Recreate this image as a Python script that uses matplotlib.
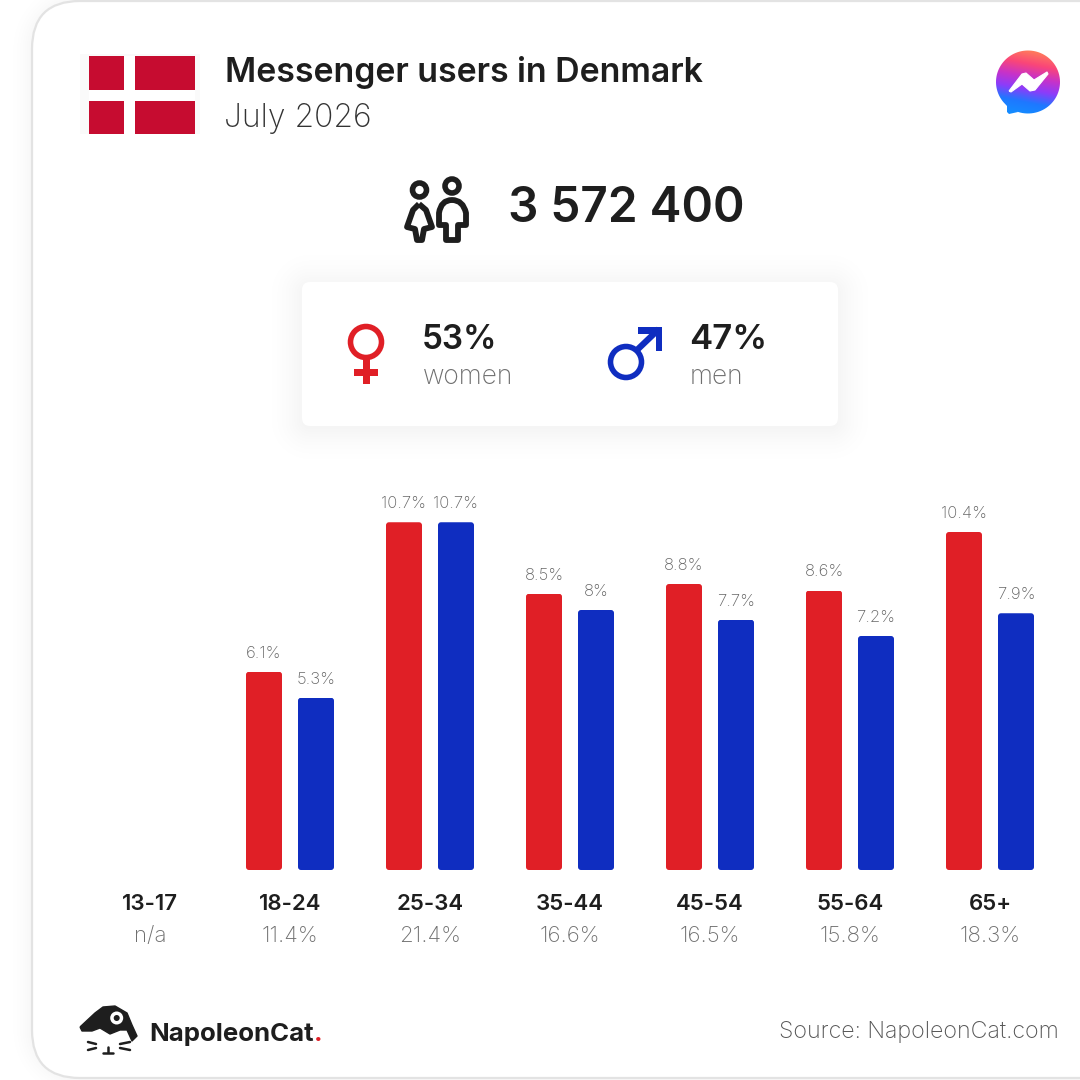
import numpy as np
import matplotlib
matplotlib.use('Agg')
import matplotlib.pyplot as plt
from matplotlib.patches import FancyBboxPatch, Circle, Rectangle, PathPatch
from matplotlib.path import Path

## chart values
age_groups = ['13-17', '18-24', '25-34', '35-44', '45-54', '55-64', '65+']
age_shares = ['n/a', '11.4%', '21.4%', '16.6%', '16.5%', '15.8%', '18.3%']
women = [None, 6.1, 10.7, 8.5, 8.8, 8.6, 10.4]
men = [None, 5.3, 10.7, 8, 7.7, 7.2, 7.9]
title = 'Messenger users in Denmark'
subtitle = 'July 2026'
total_users = '3 572 400'
women_share = '53%'
men_share = '47%'

RED = '#e01f26'
BLUE = '#0f2dc0'
DARK = '#1e1e1e'
GREY = '#6f6f6f'
FONT = 'Inter'

fig = plt.figure(figsize=(10.8, 10.8), dpi=100, facecolor='white')

## overlay axes works in the pixels of the reference, y going down
deco = fig.add_axes([0, 0, 1, 1], zorder=1)
deco.set_xlim(0, 1080)
deco.set_ylim(1080, 0)
deco.axis('off')

## chart axes, 140px per age group and 32.5px per percent, baseline at y=870
ax = fig.add_axes([0, 0, 1, 1], zorder=2)
ax.set_xlim(-150 / 140, 930 / 140)
ax.set_ylim(-210 / 32.5, 870 / 32.5)
ax.axis('off')
ax.patch.set_alpha(0)


def soft_shadow(x0, y0, x1, y1, r, spread, strength, dy=0):
    ## black image whose alpha falls off with the distance to a rounded box
    ex0, ex1, ey0, ey1 = x0 - spread, min(x1 + spread, 1080), y0 - spread + dy, min(y1 + spread + dy, 1080)
    ex0, ey0 = max(ex0, 0), max(ey0, 0)
    yy, xx = np.mgrid[ey0 + 0.5:ey1, ex0 + 0.5:ex1]
    qx = np.abs(xx - (x0 + x1) / 2) - (x1 - x0) / 2 + r
    qy = np.abs(yy - (y0 + y1 + 2 * dy) / 2) - (y1 - y0) / 2 + r
    dist = np.hypot(np.maximum(qx, 0), np.maximum(qy, 0)) + np.minimum(np.maximum(qx, qy), 0) - r
    fall = np.clip(1 - dist / spread, 0, 1) ** 2
    rgba = np.zeros(dist.shape + (4,))
    rgba[..., 3] = strength * fall
    deco.imshow(rgba, extent=(ex0, ex1, ey1, ey0), aspect='auto', zorder=1, interpolation='bilinear')


## outer card
soft_shadow(32, 1, 1140, 1078, 48, 28, 0.035)
deco.add_patch(FancyBboxPatch((32, 1), 1108, 1077, boxstyle='round,pad=0,rounding_size=48',
                              fc='white', ec='#e3e3e3', lw=1.6, zorder=1))

## flag
deco.add_patch(Rectangle((80, 54), 120, 80, fc='#fafafa', ec='none'))
deco.add_patch(Rectangle((89, 56), 106, 78, fc='#c60c30', ec='none'))
deco.add_patch(Rectangle((124, 56), 11, 78, fc='white', ec='none'))
deco.add_patch(Rectangle((89, 90), 106, 11, fc='white', ec='none'))

deco.text(225, 82, title, fontsize=24.4, fontweight='semibold', family=FONT, color=DARK)
deco.text(224, 127, subtitle, fontsize=23, fontweight='light', family=FONT, color='#333333')

## messenger logo, gradient clipped to the bubble
bubble_pts = [(1028 + 32 * np.cos(t), 82 + 31.5 * np.sin(t)) for t in np.linspace(-0.25 * np.pi, 0.62 * np.pi, 40)]
bubble_pts += [(1018, 112), (1009, 114), (1007, 112), (1007, 106)]
bubble_pts += [(1028 + 32 * np.cos(t), 82 + 31.5 * np.sin(t)) for t in np.linspace(0.78 * np.pi, 1.75 * np.pi, 50)]
bubble_path = Path(bubble_pts + [bubble_pts[0]])
stops = np.array([[255, 122, 92], [250, 70, 120], [200, 50, 200], [140, 60, 250], [30, 120, 255], [20, 140, 255]]) / 255
yy, xx = np.mgrid[0:1:64j, 0:1:64j]
g = np.clip(yy - 0.22 * (xx - 0.5), 0, 1)
grad = np.stack([np.interp(g, np.linspace(0, 1, 6), stops[:, c]) for c in range(3)], axis=-1)
im = deco.imshow(grad, extent=(990, 1066, 116, 50), aspect='auto', zorder=2)
im.set_clip_path(PathPatch(bubble_path, transform=deco.transData))
bolt = [(1009, 91), (1022, 74), (1026, 73), (1034, 80), (1047, 72), (1048, 74), (1035, 90), (1030, 91), (1022, 84), (1011, 92)]
deco.add_patch(PathPatch(Path(bolt + [bolt[0]]), fc='white', ec='white', lw=0.8, joinstyle='round', zorder=3))

## people icon
for cx, cy in [(419.5, 190), (452, 186)]:
    deco.add_patch(Circle((cx, cy), 7, fc='none', ec=DARK, lw=4))
woman_pts = [(419, 204), (426, 210), (432, 227), (424, 229), (422, 240), (417, 240), (415, 229), (407, 227), (413, 210)]
deco.add_patch(PathPatch(Path(woman_pts + [woman_pts[0]]), fc='none', ec=DARK, lw=4.2, joinstyle='round'))
man_verts = [(439, 225), (439, 213), (441, 200), (452, 200), (463, 200), (466, 213), (466, 225), (458, 225),
             (458, 240), (446, 240), (446, 225), (439, 225)]
man_codes = [Path.MOVETO, Path.LINETO, Path.CURVE3, Path.CURVE3, Path.CURVE3, Path.CURVE3, Path.LINETO, Path.LINETO,
             Path.LINETO, Path.LINETO, Path.LINETO, Path.CLOSEPOLY]
deco.add_patch(PathPatch(Path(man_verts, man_codes), fc='none', ec=DARK, lw=4.2, joinstyle='round'))

deco.text(508, 222, total_users, fontsize=34.4, fontweight='semibold', family=FONT, color=DARK)

## gender box
soft_shadow(302, 282, 838, 426, 8, 44, 0.04, dy=3)
deco.add_patch(FancyBboxPatch((302, 282), 536, 144, boxstyle='round,pad=0,rounding_size=8', fc='white', ec='none', zorder=1))

deco.add_patch(Circle((366, 342), 15.5, fc='none', ec=RED, lw=4))
deco.add_patch(Rectangle((363, 358), 6.5, 26, fc=RED, ec='none'))
deco.add_patch(Rectangle((354, 369), 24, 6.5, fc=RED, ec='none'))

deco.add_patch(Circle((626, 362), 15.5, fc='none', ec=BLUE, lw=4))
deco.plot([637, 659], [350, 329], color=BLUE, lw=4.5, solid_capstyle='butt')
deco.add_patch(Rectangle((638, 327), 24, 6.5, fc=BLUE, ec='none'))
deco.add_patch(Rectangle((655.5, 327), 6.5, 24, fc=BLUE, ec='none'))

deco.text(422, 349, women_share, fontsize=24, fontweight='semibold', family=FONT, color=DARK)
deco.text(423, 384, 'women', fontsize=19, fontweight='light', family=FONT, color=GREY)
deco.text(689, 349, men_share, fontsize=25, fontweight='semibold', family=FONT, color=DARK)
deco.text(690, 384, 'men', fontsize=19, fontweight='light', family=FONT, color=GREY)

## bars
bar_w = 36 / 140
off = 26 / 140
for i in range(1, len(age_groups)):
    for val, xc, col in [(women[i], i - off, RED), (men[i], i + off, BLUE)]:
        b = ax.bar(xc, val, bar_w, color=col)[0]
        ## round the corners a little, in pixels of the reference
        px_x = 150 + xc * 140
        px_top = 870 - val * 32.5
        b.set_clip_path(FancyBboxPatch((px_x - 18, px_top), 36, val * 32.5,
                                       boxstyle='round,pad=0,rounding_size=3', transform=deco.transData))
        ax.annotate(f'{val}%', (xc, val), xytext=(0, 14), textcoords='offset pixels', ha='center',
                    fontsize=12, fontweight='light', family=FONT, color='#666666')

for i, (a, s) in enumerate(zip(age_groups, age_shares)):
    ax.text(i, -40 / 32.5, a, ha='center', fontsize=16, fontweight='semibold', family=FONT, color=DARK)
    ax.text(i, -72 / 32.5, s, ha='center', fontsize=16, fontweight='light', family=FONT, color=GREY)

## napoleoncat logo
hat = [(80, 1027), (95, 1013), (103, 1007), (115, 1006), (127, 1013), (132, 1025), (137, 1036), (132, 1041),
       (127, 1030), (120, 1030), (110, 1034), (100, 1028), (92, 1031), (82, 1031)]
deco.add_patch(PathPatch(Path(hat + [hat[0]]), fc=DARK, ec=DARK, lw=1, joinstyle='round'))
deco.add_patch(Circle((116.7, 1018), 6.5, fc='white', ec='none'))
deco.add_patch(Circle((116.7, 1018), 3, fc=DARK, ec='none'))
for xs, ys in [((88, 96), (1042, 1044)), ((88, 96), (1050, 1048)), ((120, 130), (1044, 1042)),
               ((120, 130), (1048, 1050)), ((108, 108), (1047, 1052)), ((103, 113), (1052.5, 1052.5))]:
    deco.plot(xs, ys, color=DARK, lw=1.8, solid_capstyle='round')
deco.text(149.5, 1041, 'NapoleonCat', fontsize=18.6, fontweight='bold', family=FONT, color=DARK)
deco.text(314, 1041, '.', fontsize=18.6, fontweight='bold', family=FONT, color=RED)

deco.text(1059, 1038, 'Source: NapoleonCat.com', ha='right', fontsize=16.7, fontweight='light', family=FONT, color='#555555')

deco.set_xlim(0, 1080)
deco.set_ylim(1080, 0)

fig.savefig('out.png', dpi=100, facecolor='white')
